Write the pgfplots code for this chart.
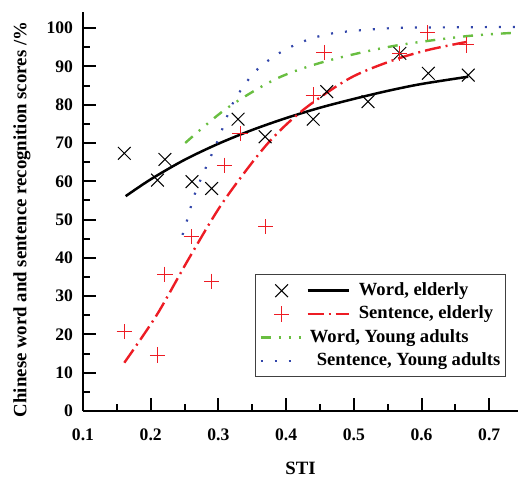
\documentclass[border=0pt]{standalone}
\usepackage{fontspec}
\setmainfont{Liberation Serif}
\usepackage{pgfplots}
\pgfplotsset{compat=1.18}
\definecolor{cred}{RGB}{237,28,36}
\definecolor{cgreen}{RGB}{105,190,65}
\definecolor{cblue}{RGB}{50,70,170}
\newcommand{\legtxt}[2]{\makebox[72pt][l]{\hspace*{#1}#2}}
\begin{document}
\begin{tikzpicture}
\useasboundingbox (-41.5pt,-32.5pt) rectangle (217.5pt,205.5pt);
\begin{axis}[
  at={(0,0)}, anchor=south west,
  scale only axis, width=217.5pt, height=199.5pt,
  xmin=0.1, xmax=0.7425, ymin=0, ymax=104.2,
  axis x line=bottom, axis y line=left,
  axis line style={-, line width=1pt},
  every tick/.style={black, line width=1pt},
  tick align=inside,
  major tick length=6.5pt, minor tick length=3.5pt,
  xtick={0.1,0.2,0.3,0.4,0.5,0.6,0.7},
  ytick={0,10,20,30,40,50,60,70,80,90,100},
  minor x tick num=1, minor y tick num=1,
  xticklabel style={/pgf/number format/fixed, /pgf/number format/precision=1, /pgf/number format/fixed zerofill, yshift=-5.5pt},
  yticklabel style={xshift=-1.5pt},
  /pgf/number format/assume math mode=true,
  tick label style={font=\fontsize{8.8}{10}\selectfont\bfseries},
  xlabel={STI}, ylabel={Chinese word and sentence recognition scores /\%},
  label style={font=\fontsize{9.4}{11}\selectfont\bfseries},
  xlabel style={at={(axis description cs:0.5,0)}, anchor=center, yshift=-28.5pt},
  ylabel style={at={(axis description cs:0,0.48)}, anchor=center, rotate=0, yshift=30.5pt},
  legend cell align=left,
  legend style={at={(0.395,0.343)}, anchor=north west, draw=black!75, line width=0.6pt,
    font=\fontsize{9.3}{11}\selectfont\bfseries, inner xsep=2pt, inner ysep=2pt,
    row sep=-0.3pt},
  clip=false,
]
% Word, elderly (data)
\addplot[only marks, mark=x, mark size=4.5pt, black, line width=0.5pt, forget plot] coordinates {
(0.161,67.3)(0.210,60.3)(0.221,65.7)(0.261,59.9)(0.290,58.1)(0.329,76.2)(0.369,71.6)
(0.440,76.2)(0.460,83.4)(0.521,80.8)(0.568,93.4)(0.610,88.2)(0.669,87.7)};
% Sentence, elderly (data)
\addplot[only marks, mark=+, mark size=3.8pt, cred, line width=0.5pt, forget plot] coordinates {
(0.161,20.7)(0.210,14.6)(0.221,35.7)(0.260,45.5)(0.290,33.9)(0.309,64.2)(0.332,72.5)
(0.370,48.1)(0.440,82.5)(0.456,93.6)(0.568,93.4)(0.609,98.8)(0.667,95.6)};
% Word, elderly fit
\addplot[black, line width=1.25pt, smooth,
  legend image code/.code={
    \path[draw=none, fill=none] (0pt,-4.5pt) rectangle (44pt,4.5pt);
    \draw[black, line width=0.5pt, solid] plot[only marks, mark=x, mark size=4.5pt] coordinates {(10.5pt,0pt)};
    \draw[black, line width=1.25pt] (23.5pt,0pt) -- (44pt,0pt);}
] coordinates {
(0.163,56.1)(0.200,60.5)(0.250,65.6)(0.300,69.8)(0.350,73.4)(0.400,76.5)(0.450,79.2)
(0.500,81.5)(0.550,83.6)(0.600,85.4)(0.669,87.3)};
\addlegendentry{\legtxt{2.5pt}{Word, elderly}}
% Sentence, elderly fit
\addplot[cred, line width=1.2pt, smooth, dash pattern=on 8pt off 2.5pt on 1pt off 2.5pt,
  legend image code/.code={
    \path[draw=none, fill=none] (0pt,-4.5pt) rectangle (44pt,4.5pt);
    \draw[cred, line width=0.5pt, solid] plot[only marks, mark=+, mark size=3.8pt] coordinates {(10.5pt,0pt)};
    \draw[cred, line width=1.2pt, dash pattern=on 8pt off 2.5pt on 1pt off 2.5pt] (23.5pt,0pt) -- (44pt,0pt);}
] coordinates {
(0.161,12.6)(0.209,25.1)(0.256,39.7)(0.307,54.6)(0.371,69.5)(0.425,78.6)(0.494,86.9)
(0.558,91.6)(0.610,94.3)(0.667,96.4)};
\addlegendentry{\legtxt{2.5pt}{Sentence, elderly}}
% Word, young adults fit
\addplot[cgreen, line width=1.2pt, smooth, dash pattern=on 5pt off 4pt on 1pt off 4pt on 1pt off 4pt,
  legend image code/.code={
    \path[draw=none, fill=none] (0pt,-4.5pt) rectangle (44pt,4.5pt);
    \draw[cgreen, line width=1.2pt, dash pattern=on 5pt off 4pt on 1pt off 4pt on 1pt off 4pt] (0pt,0pt) -- (20pt,0pt);}
] coordinates {
(0.251,70.0)(0.312,79.0)(0.386,86.8)(0.460,91.4)(0.558,95.3)(0.667,97.9)(0.742,98.8)};
\addlegendentry{\legtxt{-22pt}{Word, Young adults}}
% Sentence, young adults fit
\addplot[cblue, line width=1.1pt, smooth, dash pattern=on 1pt off 6pt,
  legend image code/.code={
    \path[draw=none, fill=none] (0pt,-4.5pt) rectangle (44pt,4.5pt);
    \draw[cblue, line width=1.1pt, dash pattern=on 1pt off 6pt] (0pt,0pt) -- (21pt,0pt);}
] coordinates {
(0.247,46.0)(0.253,49.4)(0.265,56.6)(0.283,64.2)(0.300,71.0)(0.322,80.6)(0.354,88.6)
(0.393,93.8)(0.433,97.0)(0.475,98.8)(0.558,100.0)(0.650,100.2)(0.742,100.3)};
\addlegendentry{\legtxt{-18.5pt}{Sentence, Young adults}}
\end{axis}
\end{tikzpicture}
\end{document}
